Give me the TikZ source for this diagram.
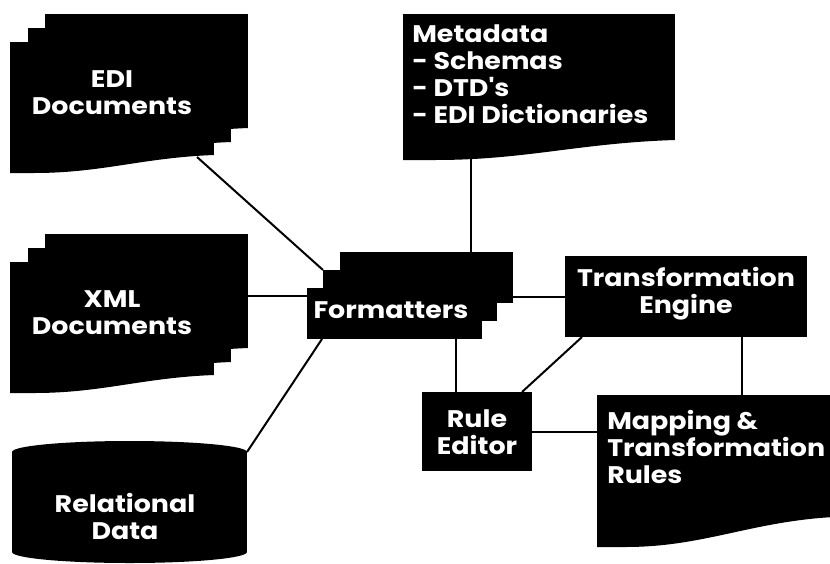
\documentclass[tikz,border=0pt]{standalone}
\usepackage{fontspec}
\setmainfont{Poppins}[Ligatures=TeXOff, FakeStretch=1.12]
\usetikzlibrary{calc}
\pgfdeclarelayer{bg}
\pgfsetlayers{bg,main}

% black block from corner (x1,y1) to (x2,y2), in pixel units with y downwards
\newcommand\blk[5]{%
  \node[blk, minimum width={(#4-#2)*0.75pt}, minimum height={(#5-#3)*0.75pt}]
    (#1) at ({(#2+#4)/2},{(#3+#5)/2}) {};}
% wavy bottom under a block: #1 node, #2 dip at the left end (pixels)
\newcommand\wave[2]{%
  \fill let \p1=(#1.south west), \p2=(#1.south east) in
    (\p2) .. controls (\x2-0.35*\x2+0.35*\x1,\y2-0.15*#2*0.75pt)
                  and (\x1+0.45*\x2-0.45*\x1,\y1-#2*0.75pt) ..
    (\x1+0.12*\x2-0.12*\x1,\y1-#2*0.75pt) -- (\x1,\y1-#2*0.75pt) -- (\p1) -- cycle;}

\tikzset{
  blk/.style={rectangle, fill=black, draw=none, inner sep=0pt, outer sep=0pt},
  txt/.style={text=white, inner sep=0pt, align=center,
    font=\bfseries\fontsize{18}{20.25}\selectfont},
  txtl/.style={txt, align=left, anchor=north west},
  link/.style={line width=1.5pt, black}
}

\begin{document}
\begin{tikzpicture}[x=0.75pt,y=-0.75pt]
\useasboundingbox (0,0) rectangle (830,563);

% EDI documents (stack of three sheets)
\blk{ediB}{45}{14}{248}{128}   \wave{ediB}{18}
\blk{ediM}{28}{28}{231}{142}   \wave{ediM}{18}
\blk{edi}{10}{42}{214}{155}    \wave{edi}{18}
\node[txt] (ediT) at (112,93) {EDI\\Documents};

% XML documents (stack of three sheets)
\blk{xmlB}{45}{234}{248}{348}  \wave{xmlB}{18}
\blk{xmlM}{28}{248}{231}{362}  \wave{xmlM}{18}
\blk{xml}{10}{262}{214}{375}   \wave{xml}{18}
\node[txt] (xmlT) at (112,313) {XML\\Documents};

% relational data (cylinder)
\blk{rel}{12}{452}{247}{552}
\fill (rel.north) ellipse [x radius=88.1pt, y radius=8.25pt];
\fill (rel.south) ellipse [x radius=88.1pt, y radius=8.25pt];
\node[txt] (relT) at (125,516) {Relational\\Data};

% metadata sheet
\blk{meta}{403}{14}{675}{140}  \wave{meta}{20}
\node[txtl] (metaT) at (412,24) {Metadata\\- Schemas\\- DTD's\\- EDI Dictionaries};

% formatters (stack of three)
\blk{fmtB}{340}{252}{513}{303}
\blk{fmtM}{323}{270}{497}{321}
\blk{fmt}{307}{288}{482}{339}
\node[txt] (fmtT) at (391,310) {Formatters};

% transformation engine
\blk{te}{565}{256}{807}{337}
\node[txt] (teT) at (686,294) {Transformation\\Engine};

% rule editor
\blk{rule}{422}{392}{532}{471}
\node[txt] (ruleT) at (477,432) {Rule\\Editor};

% mapping and transformation rules sheet
\blk{map}{597}{395}{834}{517}  \wave{map}{30}
\node[txtl] (mapT) at (607,410) {Mapping \&\\Transformation\\Rules};

% connectors, kept behind the blocks
\begin{pgfonlayer}{bg}
  \draw[link] ($(edi.south east)+(-17,2)$) -- (fmtM.north west);
  \draw[link] ($(fmt.north west)+(0,8)$) coordinate (xmlin) -- (xmlin -| xmlB.east);
  \draw[link] (rel.north east) -- ($(fmt.south west)+(15,0)$);
  \draw[link] ($(fmtB.north west)+(131,0)$) coordinate (metain) -- (metain |- meta.center);
  \draw[link] (te.west) -- (te.west -| fmtB.east);
  \draw[link] ($(rule.north west)+(34,0)$) coordinate (rulein) -- (rulein |- fmt.center);
  \draw[link] ($(te.south west)+(17,0)$) -- ($(rule.north east)+(-10,0)$);
  \draw[link] ($(te.south west)+(177,0)$) coordinate (tedown) -- (tedown |- map.north);
  \draw[link] (rule.east) -- (rule.east -| map.west);
\end{pgfonlayer}
\end{tikzpicture}
\end{document}
